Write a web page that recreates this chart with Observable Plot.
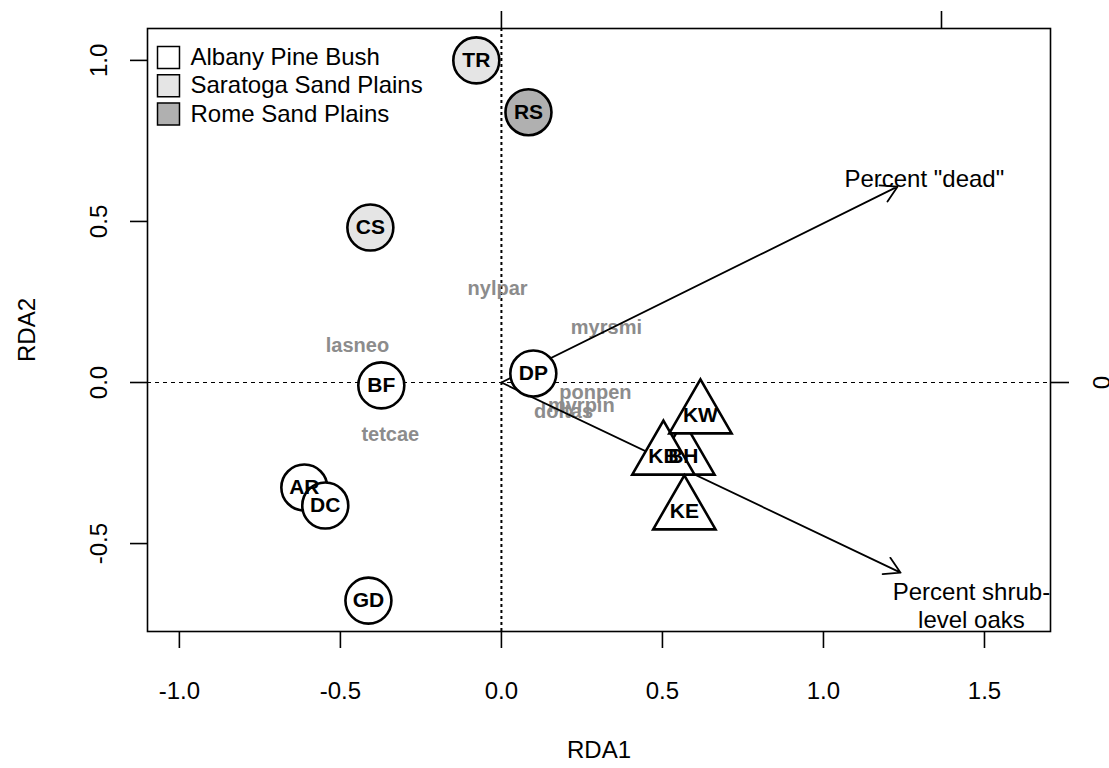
<!DOCTYPE html>
<html><head><meta charset="utf-8">
<script src="https://cdn.jsdelivr.net/npm/d3@7"></script>
<script src="https://cdn.jsdelivr.net/npm/@observablehq/plot@0.6"></script>
<style>body{margin:0;background:#fff} #chart svg{display:block}</style>
</head><body><div id="chart"></div>
<script>
// ---- data ----
const siteNames = ["TR", "RS", "CS", "BF", "DP", "AR", "DC", "GD"];
const siteX = [-0.078, 0.084, -0.407, -0.373, 0.099, -0.612, -0.547, -0.413];
const siteY = [1.0, 0.839, 0.481, -0.009, 0.028, -0.326, -0.382, -0.677];
const siteGroup = ["Saratoga Sand Plains", "Rome Sand Plains", "Saratoga Sand Plains", "Albany Pine Bush",
                   "Albany Pine Bush", "Albany Pine Bush", "Albany Pine Bush", "Albany Pine Bush"];
const triNames = ["BH", "KB", "KW", "KE"];
const triX = [0.565, 0.503, 0.618, 0.568];
const triY = [-0.23, -0.23, -0.102, -0.40];
const speciesNames = ["nylpar", "myrsmi", "lasneo", "tetcae", "ponpen", "myrpin", "doltas"];
const speciesX = [-0.012, 0.326, -0.447, -0.345, 0.292, 0.248, 0.193];
const speciesY = [0.292, 0.171, 0.115, -0.161, -0.031, -0.071, -0.09];
const envNames = ["Percent \"dead\"", "Percent shrub-\nlevel oaks"];
const envX = [0.90, 0.907];        // biplot (secondary axis) units
const envY = [0.445, -0.432];
const envLabelX = [0.961, 1.068];
const envLabelY = [0.464, -0.505];
const arrowMul = 1.3665;           // secondary-axis scaling factor
const groups = ["Albany Pine Bush", "Saratoga Sand Plains", "Rome Sand Plains"];
const groupFill = ["#ffffff", "#e5e5e5", "#b0b0b0"];
const xTicks = [-1.0, -0.5, 0.0, 0.5, 1.0, 1.5];
const yTicks = [-0.5, 0.0, 0.5, 1.0];
const topTicks = [0, 1];
const rightTicks = [0];

// ---- tables ----
const fillOf = g => groupFill[groups.indexOf(g)];
const sites = siteNames.map((n, i) => ({name: n, x: siteX[i], y: siteY[i], fill: fillOf(siteGroup[i])}));
const tris = triNames.map((n, i) => ({name: n, x: triX[i], y: triY[i]}));
const species = speciesNames.map((n, i) => ({name: n, x: speciesX[i], y: speciesY[i]}));
const env = envNames.map((n, i) => ({name: n, x: envX[i] * arrowMul, y: envY[i] * arrowMul,
  lx: envLabelX[i] * arrowMul, ly: envLabelY[i] * arrowMul}));

const font = "Liberation Sans, Arial, Helvetica, sans-serif";
const FS = 24;
const legendMarks = groups.flatMap((g, i) => [
  Plot.dot([g], {frameAnchor: "top-left", dx: 21, dy: 29 + i * 28.3, symbol: "square", r: 12.4,
    fill: groupFill[i], stroke: "black", strokeWidth: 1.5}),
  Plot.text([g], {frameAnchor: "top-left", dx: 43, dy: 29 + i * 28.3, text: d => d,
    textAnchor: "start", lineAnchor: "middle", fontSize: FS, fill: "black"})
]);

const chart = Plot.plot({
  width: 1109, height: 768,
  marginLeft: 147, marginRight: 59, marginTop: 28, marginBottom: 137,
  x: {domain: [-1.099, 1.705]},
  y: {domain: [-0.773, 1.099]},
  color: {type: "identity"},
  style: {fontFamily: font, background: "white"},
  marks: [
    Plot.ruleX([0], {stroke: "black", strokeWidth: 2, strokeDasharray: "3,3"}),
    Plot.ruleY([0], {stroke: "black", strokeWidth: 1, strokeDasharray: "4,4"}),
    Plot.frame({stroke: "black", strokeWidth: 1.6}),
    Plot.axisX({ticks: xTicks, tickSize: 17, tickPadding: 33, fontSize: FS, strokeWidth: 1.6,
      tickFormat: d => d.toFixed(1), label: null}),
    Plot.axisX({anchor: "top", ticks: topTicks.map(v => v * arrowMul), tickSize: 18, strokeWidth: 1.6,
      tickFormat: () => "", label: null}),
    Plot.axisY({ticks: yTicks, tickSize: 17, strokeWidth: 1.6, tickFormat: () => "", label: null}),
    Plot.axisY({anchor: "right", ticks: rightTicks.map(v => v * arrowMul), tickSize: 18, strokeWidth: 1.6,
      tickFormat: () => "", label: null}),
    Plot.text(yTicks, {y: d => d, frameAnchor: "left", text: d => d.toFixed(1), rotate: -90, dx: -48,
      textAnchor: "middle", lineAnchor: "middle", fontSize: FS, fill: "black"}),
    Plot.text(rightTicks, {y: d => d * arrowMul, frameAnchor: "right", text: d => String(d), rotate: -90, dx: 52,
      textAnchor: "middle", lineAnchor: "middle", fontSize: FS, fill: "black"}),
    Plot.text(["RDA1"], {frameAnchor: "bottom", dy: 119, text: d => d, textAnchor: "middle", lineAnchor: "middle",
      fontSize: FS, fill: "black"}),
    Plot.text(["RDA2"], {frameAnchor: "left", dx: -120, rotate: -90, text: d => d, textAnchor: "middle",
      lineAnchor: "middle", fontSize: FS, fill: "black"}),
    Plot.text(species, {x: "x", y: "y", text: "name", fill: "#8c8c8c", fontWeight: "bold", fontSize: 20}),
    Plot.arrow(env, {x1: () => 0, y1: () => 0, x2: "x", y2: "y", stroke: "black", strokeWidth: 1.8,
      headLength: 15, headAngle: 60}),
    Plot.text(env, {x: "lx", y: "ly", text: "name", fontSize: FS, fill: "black", lineHeight: 1.17}),
    Plot.dot(sites, {x: "x", y: "y", r: 23, fill: "fill", stroke: "black", strokeWidth: 2.6}),
    Plot.dot(tris, {x: "x", y: "y", symbol: "triangle", r: 23.15, fill: "white", stroke: "black", strokeWidth: 2.6}),
    Plot.text(sites, {x: "x", y: "y", text: "name", fontWeight: "bold", fontSize: 21, fill: "black"}),
    Plot.text(tris, {x: "x", y: "y", text: "name", fontWeight: "bold", fontSize: 21, fill: "black"}),
    ...legendMarks
  ]
});
document.getElementById("chart").append(chart);
</script>
</body></html>
